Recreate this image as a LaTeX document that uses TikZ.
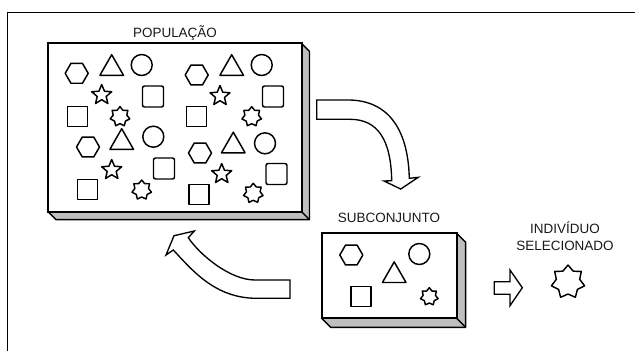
\documentclass[tikz,border=0pt]{standalone}
\usepackage{fontspec}
\setmainfont{Liberation Sans}
\begin{document}
\begin{tikzpicture}[x=0.75pt,y=-0.75pt,
  shp/.style={draw=black,line width=1.1pt,line join=round},
  slabface/.style={draw=black,fill=white,line width=1.5pt},
  slabside/.style={draw=black,fill=black!25,line width=1.1pt,line join=round},
  hollow/.style={draw=black,fill=white,line width=1pt,line join=miter},
  caption/.style={font=\fontsize{10.1}{12.75}\selectfont,text=black!90,inner sep=0pt,align=center},
  hexa/.pic={\draw[shp] (0:11.5) -- (60:11.5) -- (120:11.5) -- (180:11.5) -- (240:11.5) -- (300:11.5) -- cycle;},
  tri/.pic={\draw[shp] (0,-10.3) -- (11.8,10.3) -- (-11.8,10.3) -- cycle;},
  circ/.pic={\draw[shp] (0,0) circle[radius=10.5];},
  sqr/.pic={\draw[shp] (-10,-10) rectangle (10,10);},
  sqround/.pic={\draw[shp,rounded corners=1.5pt] (-10.5,-10.5) rectangle (10.5,10.5);},
  starfive/.pic={\draw[shp] (-90:10.5) \foreach \a in {-90,-18,54,126,198}{ -- (\a:10.5) -- ({\a+36}:4.7)} -- cycle;},
  starseven/.pic={\draw[shp] (-90:10) \foreach \k in {0,...,6}{ -- ({-90+\k*360/7}:10) -- ({-90+\k*360/7+180/7}:7)} -- cycle;},
]
\useasboundingbox (0,0) rectangle (635,351);

% outer frame (top and left edges)
\draw[line width=1.1pt] (7.5,351) -- (7.5,12.5) -- (635,12.5);

% population slab
\draw[slabside] (48,211.7) -- (56,219.7) -- (309.5,219.7) -- (309.5,51.3) -- (301.5,43.3) -- cycle;
\draw[line width=1.1pt] (301.5,211.7) -- (309.5,219.7);
\draw[slabface] (48,43.3) rectangle (301.5,211.7);
\node[caption] (poplabel) at (175,33) {POPULAÇÃO};

\pic at (76.7,73.3) {hexa};
\pic at (88,147) {hexa};
\pic at (196.7,75) {hexa};
\pic at (200,153) {hexa};
\pic at (111.7,65) {tri};
\pic at (121.7,139) {tri};
\pic at (231.7,65) {tri};
\pic at (233.3,142.5) {tri};
\pic at (141.7,65) {circ};
\pic at (153.3,136.7) {circ};
\pic at (261.7,65) {circ};
\pic at (265,143.3) {circ};
\pic at (101.7,95) {starfive};
\pic at (111.7,170) {starfive};
\pic at (220,96) {starfive};
\pic at (221.7,174) {starfive};
\pic at (153,96.5) {sqround};
\pic at (164,168.5) {sqround};
\pic at (273,96.5) {sqround};
\pic at (276.5,174) {sqround};
\pic at (77.5,116.5) {sqr};
\pic at (87.5,189.5) {sqr};
\pic at (196.5,116.5) {sqr};
\pic at (199,194.5) {sqr};
\pic at (120,116.7) {starseven};
\pic at (141.7,190) {starseven};
\pic at (251.7,116.7) {starseven};
\pic at (253.3,193.3) {starseven};

% subset slab
\draw[slabside] (321.7,318.3) -- (330.7,327.3) -- (465.7,327.3) -- (465.7,242.3) -- (456.7,233.3) -- cycle;
\draw[line width=1.1pt] (456.7,318.3) -- (465.7,327.3);
\draw[slabface] (321.7,233.3) rectangle (456.7,318.3);
\node[caption] (sublabel) at (389,218) {SUBCONJUNTO};

\pic at (351.3,255) {hexa};
\pic at (419.3,254) {circ};
\pic at (394.2,272.2) {tri};
\pic at (361.2,296.7) {sqr};
\pic[scale=0.9] at (429.3,296.7) {starseven};

% selected individual
\node[caption] (sellabel) at (565,236.5) {INDIVÍDUO\\SELECIONADO};
\draw[shp] (568,282) +(-90:17) \foreach \k in {0,...,6}{ -- +({-90+\k*360/7}:17) -- +({-90+\k*360/7+180/7}:12)} -- cycle;

% curved arrow: population to subset
\draw[hollow] (316.7,100) -- (348,100) .. controls (385,100) and (408,125) .. (409.3,178.3)
  -- (418.3,177.3) -- (400.7,189) -- (384,181) -- (391.7,180.7)
  .. controls (391,140) and (378,119.3) .. (350,119.3) -- (316.7,119.3) -- cycle;

% curved arrow: subset back to population
\draw[hollow] (290,280) -- (255,280) .. controls (230,280) and (200,255) .. (188.3,237.7)
  -- (194.3,231) -- (174,235.7) -- (166,255) -- (173.3,250)
  .. controls (192,270) and (215,298.3) .. (256.7,298.3) -- (290,298.3) -- cycle;

% block arrow: subset to selected individual
\draw[hollow] (494.3,281.7) -- (510,281.7) -- (510,270) -- (522.3,287.7) -- (510,305.7)
  -- (510,294.3) -- (494.3,294.3) -- cycle;
\end{tikzpicture}
\end{document}
